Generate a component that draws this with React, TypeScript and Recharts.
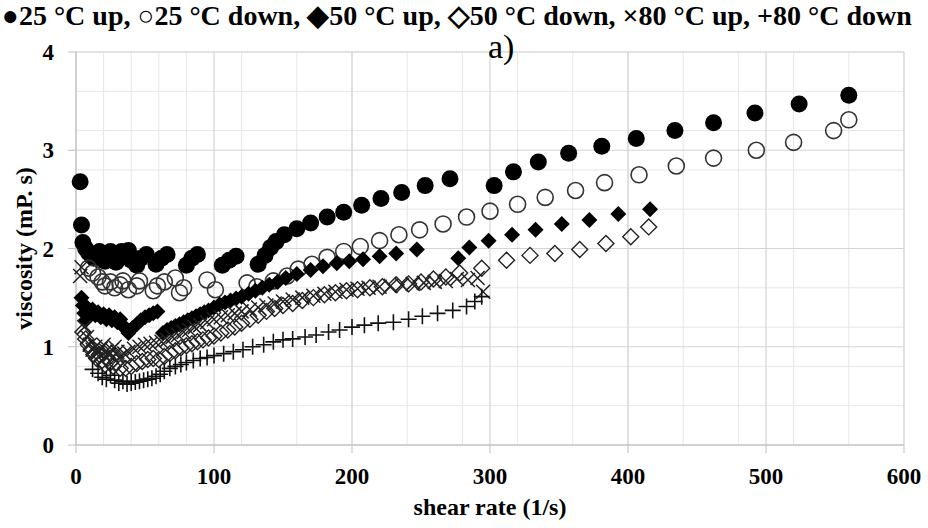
import React from 'react';
import { ScatterChart, Scatter, XAxis, YAxis, CartesianGrid } from 'recharts';

// shear rate (1/s), viscosity (mP. s) pairs
const up25 = [
  [3, 2.68], [4, 2.24], [5, 2.06], [7, 2.0], [9, 1.96], [11, 1.93], [13, 1.9], [15, 1.94],
  [17, 1.97], [19, 1.9], [21, 1.87], [23, 1.93], [25, 1.97], [27, 1.9], [29, 1.86], [31, 1.93],
  [33, 1.97], [35, 1.92], [38, 1.98], [40, 1.88], [44, 1.83], [47, 1.9], [51, 1.94], [58, 1.84],
  [62, 1.9], [66, 1.94], [80, 1.83], [84, 1.9], [88, 1.94], [106, 1.83], [111, 1.88], [116, 1.92],
  [132, 1.84], [137, 1.93], [141, 2.01], [145, 2.07], [151, 2.14], [160, 2.2], [170, 2.26],
  [182, 2.32], [194, 2.37], [207, 2.44], [221, 2.51], [236, 2.57], [253, 2.64], [271, 2.71],
  [303, 2.64], [317, 2.78], [335, 2.88], [357, 2.97], [381, 3.04], [406, 3.12], [434, 3.2],
  [462, 3.28], [492, 3.38], [524, 3.47], [560, 3.56],
];

const down25 = [
  [9, 1.8], [12, 1.75], [16, 1.71], [19, 1.66], [21, 1.62], [25, 1.66], [28, 1.6], [32, 1.63],
  [34, 1.67], [38, 1.58], [44, 1.62], [46, 1.67], [56, 1.57], [59, 1.62], [64, 1.66], [72, 1.7],
  [75, 1.55], [78, 1.6], [95, 1.68], [101, 1.58], [124, 1.65], [131, 1.61], [143, 1.67],
  [153, 1.72], [161, 1.79], [171, 1.84], [182, 1.91], [194, 1.97], [206, 2.02], [220, 2.08],
  [234, 2.14], [249, 2.19], [266, 2.25], [283, 2.32], [300, 2.38], [320, 2.45], [340, 2.52],
  [362, 2.59], [383, 2.67], [408, 2.75], [435, 2.84], [462, 2.92], [493, 3.0], [520, 3.08],
  [549, 3.2], [560, 3.31],
];

const up50 = [
  [4, 1.5], [5, 1.42], [6, 1.34], [7, 1.27], [8, 1.4], [10, 1.35], [12, 1.38], [14, 1.32],
  [16, 1.35], [18, 1.3], [20, 1.33], [22, 1.28], [24, 1.32], [26, 1.27], [28, 1.3], [30, 1.25],
  [32, 1.28], [34, 1.22], [36, 1.18], [38, 1.14], [41, 1.19], [44, 1.23], [47, 1.27], [50, 1.3],
  [53, 1.32], [56, 1.34], [59, 1.36], [63, 1.14], [66, 1.17], [69, 1.19], [72, 1.21], [75, 1.23],
  [78, 1.25], [81, 1.27], [84, 1.29], [87, 1.31], [90, 1.33], [93, 1.35], [96, 1.37], [100, 1.4],
  [104, 1.43], [108, 1.45], [112, 1.47], [116, 1.49], [120, 1.51], [125, 1.54], [130, 1.57],
  [135, 1.6], [140, 1.63], [146, 1.66], [152, 1.7], [160, 1.74], [170, 1.78], [179, 1.82],
  [189, 1.85], [198, 1.87], [208, 1.89], [220, 1.92], [232, 1.95], [247, 1.99], [277, 1.9],
  [285, 2.01], [299, 2.08], [316, 2.14], [333, 2.19], [352, 2.25], [372, 2.29], [393, 2.35],
  [416, 2.4],
];

const down50 = [
  [5, 1.15], [7, 1.08], [9, 1.02], [11, 0.97], [13, 0.92], [15, 0.88], [17, 0.92], [19, 0.86],
  [21, 0.82], [23, 0.88], [25, 0.84], [27, 0.8], [29, 0.84], [32, 0.78], [36, 0.78], [40, 0.8],
  [44, 0.83], [48, 0.85], [52, 0.87], [56, 0.88], [60, 0.87], [64, 0.9], [68, 0.93], [72, 0.96],
  [76, 0.99], [80, 1.01], [84, 1.03], [88, 1.05], [92, 1.07], [96, 1.09], [100, 1.11],
  [105, 1.14], [110, 1.17], [115, 1.2], [120, 1.24], [126, 1.28], [132, 1.32], [138, 1.36],
  [144, 1.39], [150, 1.42], [157, 1.44], [164, 1.47], [172, 1.5], [180, 1.53], [188, 1.55],
  [196, 1.57], [204, 1.58], [213, 1.6], [222, 1.61], [232, 1.63], [241, 1.64], [250, 1.66],
  [259, 1.69], [268, 1.71], [278, 1.75], [294, 1.8], [312, 1.88], [329, 1.93], [347, 1.95],
  [365, 1.99], [384, 2.05], [402, 2.12], [415, 2.22],
];

const up80 = [
  [3, 1.72], [4, 1.81], [6, 1.2], [8, 1.1], [10, 1.02], [12, 0.97], [14, 1.0], [16, 0.94],
  [18, 0.98], [20, 1.02], [22, 0.96], [24, 0.92], [26, 0.97], [28, 1.0], [30, 0.95], [32, 0.9],
  [35, 0.93], [38, 0.95], [42, 0.98], [46, 1.0], [50, 1.02], [54, 1.03], [58, 1.04], [62, 1.05],
  [66, 1.07], [70, 1.1], [74, 1.12], [78, 1.15], [82, 1.17], [86, 1.2], [90, 1.22], [95, 1.25],
  [100, 1.28], [105, 1.3], [110, 1.32], [115, 1.34], [120, 1.36], [126, 1.38], [132, 1.4],
  [138, 1.42], [144, 1.44], [150, 1.46], [157, 1.48], [164, 1.5], [172, 1.52], [180, 1.54],
  [188, 1.56], [196, 1.58], [204, 1.59], [212, 1.6], [220, 1.61], [228, 1.62], [236, 1.63],
  [244, 1.64], [252, 1.65], [260, 1.66], [268, 1.67], [276, 1.69], [284, 1.68], [291, 1.7],
  [295, 1.56],
];

const down80 = [
  [12, 0.77], [16, 0.73], [19, 0.69], [22, 0.67], [25, 0.71], [28, 0.66], [31, 0.63],
  [34, 0.65], [37, 0.62], [40, 0.63], [43, 0.64], [46, 0.65], [49, 0.66], [52, 0.67],
  [55, 0.68], [58, 0.7], [61, 0.72], [64, 0.75], [68, 0.78], [72, 0.8], [76, 0.82], [80, 0.84],
  [85, 0.86], [90, 0.88], [95, 0.89], [100, 0.91], [107, 0.93], [114, 0.95], [121, 0.97],
  [128, 1.0], [136, 1.02], [143, 1.05], [150, 1.07], [157, 1.08], [166, 1.1], [174, 1.12],
  [183, 1.15], [191, 1.17], [200, 1.2], [209, 1.22], [219, 1.24], [230, 1.25], [241, 1.28],
  [251, 1.31], [262, 1.34], [273, 1.37], [283, 1.41], [289, 1.46], [294, 1.51],
];

const xTicks = [0, 100, 200, 300, 400, 500, 600];
const yTicks = [0, 1, 2, 3, 4];
const xMinor = Array.from({ length: 31 }, (_, i) => i * 20);
const yMinor = Array.from({ length: 21 }, (_, i) => +(i * 0.2).toFixed(1));

const toPoints = (rows: number[][]) => rows.map(([x, y]) => ({ x, y }));

const FONT = '"Liberation Serif", "Times New Roman", serif';

const FilledCircle = ({ cx, cy }: any) => <circle cx={cx} cy={cy} r={8.5} fill="#000" />;
const OpenCircle = ({ cx, cy }: any) => (
  <circle cx={cx} cy={cy} r={8} fill="none" stroke="#333" strokeWidth={1.6} />
);
const FilledDiamond = ({ cx, cy }: any) => (
  <path d={`M${cx},${cy - 8}L${cx + 8},${cy}L${cx},${cy + 8}L${cx - 8},${cy}Z`} fill="#000" />
);
const OpenDiamond = ({ cx, cy }: any) => (
  <path
    d={`M${cx},${cy - 8}L${cx + 8},${cy}L${cx},${cy + 8}L${cx - 8},${cy}Z`}
    fill="none"
    stroke="#222"
    strokeWidth={1.4}
  />
);
const Cross = ({ cx, cy }: any) => (
  <path
    d={`M${cx - 7},${cy - 7}L${cx + 7},${cy + 7}M${cx - 7},${cy + 7}L${cx + 7},${cy - 7}`}
    stroke="#222"
    strokeWidth={1.5}
  />
);
const Plus = ({ cx, cy }: any) => (
  <path
    d={`M${cx - 8},${cy}L${cx + 8},${cy}M${cx},${cy - 8}L${cx},${cy + 8}`}
    stroke="#111"
    strokeWidth={1.6}
  />
);

const tickStyle = { fill: '#000', fontSize: 23, fontWeight: 700, fontFamily: FONT };

const App = () => {
  return (
    <div style={{ position: 'absolute', left: 0, top: 0, width: 928, height: 528, background: '#fff' }}>
      <div
        style={{
          position: 'absolute',
          left: 2,
          top: 1,
          whiteSpace: 'nowrap',
          fontFamily: FONT,
          fontWeight: 700,
          fontSize: 28,
          lineHeight: '30px',
          color: '#000',
        }}
      >
        ●25 °C up, ○25 °C down, ◆50 °C up, ◇50 °C down, ×80 °C up, +80 °C down
      </div>
      <div
        style={{
          position: 'absolute',
          left: 488,
          top: 28,
          fontFamily: FONT,
          fontSize: 34,
          lineHeight: '38px',
          color: '#000',
          zIndex: 2,
        }}
      >
        a)
      </div>
      <ScatterChart width={928} height={528} margin={{ top: 52, right: 24, bottom: 8, left: 0 }}>
        <CartesianGrid
          stroke="#e6e6e6"
          strokeWidth={1}
          verticalValues={xMinor}
          horizontalValues={yMinor}
        />
        <CartesianGrid stroke="#d4d4d4" strokeWidth={1.2} verticalValues={xTicks} horizontalValues={yTicks} />
        <XAxis
          type="number"
          dataKey="x"
          domain={[0, 600]}
          ticks={xTicks}
          height={75}
          stroke="#bfbfbf"
          tickSize={8}
          tickMargin={15}
          tick={tickStyle}
          label={{
            value: 'shear rate (1/s)',
            position: 'insideBottom',
            offset: 5,
            style: { fill: '#000', fontSize: 24, fontWeight: 700, fontFamily: FONT },
          }}
        />
        <YAxis
          type="number"
          dataKey="y"
          domain={[0, 4]}
          ticks={yTicks}
          width={76}
          stroke="#bfbfbf"
          tickSize={8}
          tickMargin={14}
          tick={tickStyle}
          label={{
            value: 'viscosity (mP. s)',
            angle: -90,
            position: 'insideLeft',
            offset: 23,
            style: { fill: '#000', fontSize: 24, fontWeight: 700, fontFamily: FONT, textAnchor: 'middle' },
          }}
        />
        <Scatter name="25 °C up" data={toPoints(up25)} shape={FilledCircle} isAnimationActive={false} />
        <Scatter name="25 °C down" data={toPoints(down25)} shape={OpenCircle} isAnimationActive={false} />
        <Scatter name="50 °C up" data={toPoints(up50)} shape={FilledDiamond} isAnimationActive={false} />
        <Scatter name="50 °C down" data={toPoints(down50)} shape={OpenDiamond} isAnimationActive={false} />
        <Scatter name="80 °C up" data={toPoints(up80)} shape={Cross} isAnimationActive={false} />
        <Scatter name="80 °C down" data={toPoints(down80)} shape={Plus} isAnimationActive={false} />
      </ScatterChart>
    </div>
  );
};

export default App;
